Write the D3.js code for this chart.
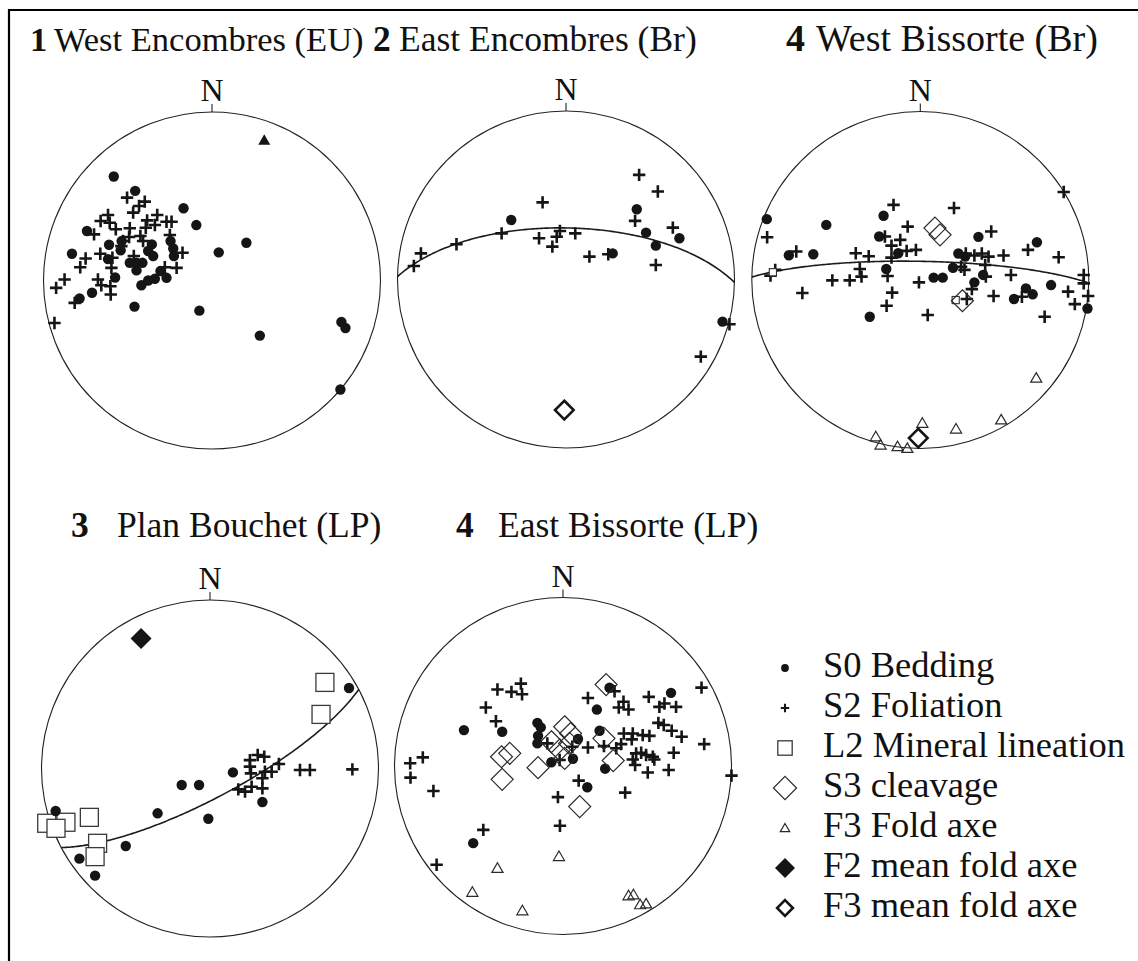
<!DOCTYPE html>
<html><head><meta charset="utf-8">
<script src="https://cdn.jsdelivr.net/npm/d3@7"></script>
<style>body{margin:0;background:#fff}svg{display:block}</style>
</head><body>
<svg id="chart" width="1138" height="961"></svg>
<script>
// ---------- DATA (positions in % of net radius: x east, y north) ----------
const titleNumbers = ["1", "2", "4", "3", "4"];
const titleNames = ["West Encombres (EU)", "East Encombres (Br)", "West Bissorte (Br)", "Plan Bouchet (LP)", "East Bissorte (LP)"];
const northLabel = "N";
const legendLabels = ["S0 Bedding", "S2 Foliation", "L2 Mineral lineation", "S3 cleavage", "F3 Fold axe", "F2 mean fold axe", "F3 mean fold axe"];
const legendSymbols = ["dot", "cross", "square", "diamond", "triangle", "filledDiamond", "boldDiamond"];

// Net 1 - West Encombres (EU)
const net1Bedding = [[-58.3,61.7],[-45.6,53.2],[-16.9,42.9],[-9.3,32.9],[20.4,22.4],[4.0,16.7],[-74.2,29.4],[-83.1,15.9],[-61.1,21.2],[-53.6,23.4],[-54.2,17.9],[-61.7,12.7],[-57.5,1.8],[-48.8,10.5],[-44.8,10.5],[-44.8,6.0],[-41.3,10.5],[-35.7,21.4],[-37.9,17.5],[-34.9,14.5],[-24.6,23.4],[-23.0,19.0],[-22.6,14.5],[-30.6,5.6],[-27.0,1.6],[-33.9,1.0],[-37.9,0],[-41.9,-2.8],[-71.2,-7.3],[-78.6,-10.7],[-46.0,-15.5],[-7.5,-17.9],[28.4,-32.7],[76.8,-24.6],[79.2,-28.2],[76.2,-64.7]];
const net1Foliation = [[-50.4,49.2],[-39.9,46.8],[-43.3,44.2],[-46.8,40.3],[-61.7,38.9],[-66.1,35.3],[-60.7,34.3],[-57.1,30.4],[-48.8,31.0],[-38.5,35.7],[-32.5,38.9],[-33.9,32.9],[-27.0,34.9],[-24.0,34.9],[-25.0,27.0],[-42.5,26.4],[-40.9,23.4],[-17.5,16.5],[-70.0,27.4],[-66.3,15.9],[-75.0,13.1],[-78.2,7.9],[-59.1,13.5],[-59.7,7.5],[-46.4,14.5],[-21.0,7.5],[-28.0,7.9],[-87.5,0.6],[-92.5,-4.4],[-67.7,0.6],[-65.7,-2.8],[-60.3,-3.4],[-60.1,-8.3],[-81.5,-13.3],[-93.5,-25.2],[-52.8,23.4],[-49.2,25.8],[-39.3,31.3],[-53.8,20.4]];
const net1FoldAxis = [[31.0,83.3]];

// Net 2 - East Encombres (Br)
const net2Bedding = [[-32.5,35.3],[42.0,41.7],[47.5,27.8],[67.3,24.5],[53.3,20.1],[27.7,15.5],[92.9,-25.0]];
const net2Foliation = [[43.4,62.1],[54.5,52.2],[-13.9,45.8],[41.0,34.8],[63.4,30.8],[-38.2,27.4],[-65.0,20.9],[-86.1,15.5],[-90.3,8.0],[-16.0,24.5],[-3.6,28.8],[-5.5,25.4],[-8.1,19.5],[5.5,27.4],[13.9,13.6],[25.1,15.0],[53.3,8.6],[97.0,-26.6],[80.0,-45.8]];
const net2F3Mean = [[-1.0,-77.5]];
const net2Plane = [1, 65]; // dip direction, dip

// Net 3 - West Bissorte (Br)
const net3Bedding = [[-91.1,36.1],[-55.8,32.7],[-78.0,14.7],[-63.5,15.3],[-21.8,38.1],[-24.4,25.8],[-13.1,15.9],[-20.2,6.5],[-30.0,-21.8],[7.9,1.4],[13.3,1.4],[19.4,7.3],[22.6,15.7],[26.6,13.9],[34.5,25.6],[37.3,3.0],[32.1,-1.4],[69.2,22.4],[77.6,-3.0],[62.7,-5.0],[66.7,-8.5],[55.6,-11.3],[99.2,-16.9]];
const net3Foliation = [[85.1,52.2],[-15.9,44.6],[20.0,42.7],[-7.5,31.7],[42.1,28.8],[-90.9,25.4],[-21.0,25.8],[-11.9,23.8],[-17.1,20.4],[-8.1,17.3],[-2.6,17.9],[-17.1,13.3],[-38.3,15.9],[-30.6,14.1],[-73.6,16.9],[-86.1,6.0],[-88.9,2.6],[-35.9,6.5],[-34.9,2.0],[-41.9,-0.2],[-52.2,-0.2],[-70.0,-7.7],[-19.4,2.4],[-16.7,-7.5],[-20.0,-15.3],[-0.8,-1.4],[4.4,-20.8],[27.0,15.7],[32.1,14.5],[36.5,15.7],[40.5,13.9],[49.4,14.5],[63.9,17.9],[82.1,13.5],[24.2,7.9],[26.2,6.0],[38.5,8.9],[38.9,2.0],[53.8,3.0],[30.6,-5.4],[27.6,-11.3],[43.5,-9.5],[60.3,-9.9],[73.8,-21.8],[87.7,-6.9],[91.7,-14.3],[97.0,3.0],[97.0,-2.0],[99.6,-9.5]];
const net3Lineation = [[-87.5,4.6],[21.0,-11.9]];
const net3Cleavage = [[8.7,30.8],[11.7,26.8],[25.0,-12.3]];
const net3FoldAxes = [[68.8,-58.1],[48.0,-82.9],[21.2,-88.3],[1.2,-84.9],[-26.4,-92.9],[-23.6,-97.8],[-13.5,-98.8],[-7.7,-99.8]];
const net3F3Mean = [[-1.2,-93.8]];
const net3Plane = [1, 81];

// Net 4 - Plan Bouchet (LP)
const net4Bedding = [[82.5,47.8],[13.6,-2.3],[-16.8,-9.8],[-6.5,-9.8],[31.1,-19.9],[-31.1,-26.6],[-1.0,-29.8],[-50.0,-46.0],[-77.5,-53.5],[-68.2,-63.6]];
const net4Foliation = [[23.7,5.0],[28.3,8.0],[32.2,7.0],[23.7,1.1],[24.3,-2.9],[32.6,-1.9],[36.6,-1.9],[40.9,2.7],[31.1,-5.8],[31.1,-11.8],[24.7,-10.8],[16.8,-12.4],[20.8,-13.7],[53.4,-0.9],[59.3,-0.9],[84.5,-0.5]];
const net4Lineation = [[68.2,51.1],[65.9,32.1],[-71.6,-29.0],[-85.5,-31.9],[-96.9,-32.5],[-91.4,-35.5],[-66.7,-44.4],[-68.2,-52.3]];
const net4BeddingTop = [[-91.6,-25.2]];
const net4F2Mean = [[-40.9,77.2]];
const net4Plane = [152, 76];

// Net 5 - East Bissorte (LP)
const net5Bedding = [[27.6,46.4],[64.1,43.4],[20.1,33.5],[-58.8,21.3],[-36.1,20.3],[-15.2,25.6],[-13.2,22.9],[-14.8,17.9],[-15.2,13.4],[8.9,16.0],[21.7,20.9],[-6.9,2.2],[5.9,4.3],[25.0,-1.6],[14.4,-12.6],[-53.3,-45.8]];
const net5Foliation = [[-25.0,48.9],[-24.3,42.6],[-30.6,44.0],[-38.9,45.4],[-45.8,34.7],[-39.8,26.6],[14.8,40.4],[30.6,44.4],[35.9,38.1],[33.1,34.7],[38.9,33.5],[50.9,41.0],[57.2,35.1],[60.2,37.1],[67.1,35.1],[82.2,46.5],[56.6,25.6],[59.8,24.3],[64.5,20.9],[70.4,17.4],[83.8,13.0],[65.7,7.9],[62.7,-2.4],[50.3,-3.9],[47.3,18.3],[41.4,19.3],[36.1,19.3],[51.3,17.9],[40.8,15.8],[34.5,13.0],[31.6,10.5],[24.3,11.8],[14.8,11.0],[43.4,7.5],[46.4,7.9],[49.3,6.5],[53.3,5.5],[54.2,3.9],[41.4,3.9],[42.8,0.6],[36.9,-15.8],[100,-5.7],[9.3,-8.7],[-3.0,-18.5],[-1.8,-35.5],[-47.3,-37.9],[-75.0,-58.6],[-76.9,-14.8],[-90.5,-6.9],[-90.7,1.6],[-83.2,5.1],[-9.3,13.4],[-2.0,3.6],[5.5,11.4]];
const net5Cleavage = [[25.6,48.3],[1.0,23.3],[4.5,19.3],[-6.9,14.4],[-2.0,9.5],[1.0,4.5],[3.9,13.4],[-31.6,7.5],[-36.5,5.5],[-36.1,-7.9],[-14.8,-1.0],[24.3,16.4],[29.8,3.2],[9.9,-24.1]];
const net5FoldAxes = [[-2.4,-53.6],[-38.9,-60.6],[-53.8,-74.8],[-24.1,-85.8],[38.9,-76.9],[41.8,-76.3],[45.8,-82.2],[49.3,-81.7]];

// ---------- LAYOUT ----------
const W = 1138, H = 961, R = 168.5;
const INK = "#151515";
const FONT = "'Liberation Serif','Times New Roman',serif";
const layout = [
  {cx: 212, cy: 280.5, numX: 30, nameX: 54, titleY: 51, fs: 34.5},
  {cx: 566, cy: 279.5, numX: 373, nameX: 399, titleY: 51, fs: 35.5},
  {cx: 920.3, cy: 280, numX: 786, nameX: 816, titleY: 51, fs: 38},
  {cx: 210, cy: 768.5, numX: 71, nameX: 117, titleY: 537, fs: 35.5},
  {cx: 563, cy: 766, numX: 456, nameX: 498, titleY: 537, fs: 35.5}
];

const nets = [
  {layers: [["cross", net1Foliation], ["dot", net1Bedding], ["filledTriangle", net1FoldAxis]]},
  {plane: net2Plane, layers: [["cross", net2Foliation], ["dot", net2Bedding], ["boldDiamond", net2F3Mean]]},
  {plane: net3Plane, layers: [["cross", net3Foliation], ["dot", net3Bedding], ["smallSquare", net3Lineation], ["diamond", net3Cleavage], ["triangle", net3FoldAxes], ["boldDiamond", net3F3Mean]]},
  {plane: net4Plane, layers: [["cross", net4Foliation], ["dot", net4Bedding], ["square", net4Lineation], ["dot", net4BeddingTop], ["filledDiamond", net4F2Mean]]},
  {layers: [["cross", net5Foliation], ["dot", net5Bedding], ["diamond", net5Cleavage], ["triangle", net5FoldAxes]]}
];

const svg = d3.select("#chart");
svg.append("rect").attr("width", W).attr("height", H).attr("fill", "#fff");
// frame
svg.append("path").attr("d", `M9,${H + 5}V10H${W + 5}`).attr("fill", "none").attr("stroke", "#000").attr("stroke-width", 2.2);

function drawSymbol(g, type, x, y, s) {
  s = s || 1;
  if (type === "dot") {
    g.append("circle").attr("cx", x).attr("cy", y).attr("r", 5.2 * s).attr("fill", INK);
  } else if (type === "cross") {
    const h = 6.2 * s;
    g.append("path").attr("d", `M${x - h},${y}H${x + h}M${x},${y - h}V${y + h}`)
      .attr("stroke", INK).attr("stroke-width", 2.6 * Math.max(s, 0.8)).attr("fill", "none");
  } else if (type === "square") {
    const h = 9 * s;
    g.append("rect").attr("x", x - h).attr("y", y - h).attr("width", 2 * h).attr("height", 2 * h)
      .attr("fill", "#fff").attr("stroke", "#3a3a3a").attr("stroke-width", 1.3);
  } else if (type === "smallSquare") {
    const h = 3.6 * s;
    g.append("rect").attr("x", x - h).attr("y", y - h).attr("width", 2 * h).attr("height", 2 * h)
      .attr("fill", "#fff").attr("stroke", "#333").attr("stroke-width", 1.1);
  } else if (type === "diamond") {
    const h = 11 * s;
    g.append("path").attr("d", `M${x},${y - h}L${x + h},${y}L${x},${y + h}L${x - h},${y}Z`)
      .attr("fill", "none").attr("stroke", "#2a2a2a").attr("stroke-width", 1.2);
  } else if (type === "triangle") {
    const h = 5.3 * s;
    g.append("path").attr("d", `M${x},${y - h}L${x + h * 1.05},${y + h * 0.8}L${x - h * 1.05},${y + h * 0.8}Z`)
      .attr("fill", "none").attr("stroke", "#2a2a2a").attr("stroke-width", 1.2);
  } else if (type === "filledTriangle") {
    const h = 6 * s;
    g.append("path").attr("d", `M${x},${y - h}L${x + h},${y + h * 0.75}L${x - h},${y + h * 0.75}Z`)
      .attr("fill", INK);
  } else if (type === "filledDiamond") {
    const h = 10.5 * s;
    g.append("path").attr("d", `M${x},${y - h}L${x + h},${y}L${x},${y + h}L${x - h},${y}Z`).attr("fill", INK);
  } else if (type === "boldDiamond") {
    const h = 9.3 * s;
    g.append("path").attr("d", `M${x},${y - h}L${x + h},${y}L${x},${y + h}L${x - h},${y}Z`)
      .attr("fill", "#fff").attr("stroke", INK).attr("stroke-width", 2.6);
  }
}

nets.forEach((net, i) => {
  const L = layout[i];
  const g = svg.append("g");
  const x = d3.scaleLinear().domain([-100, 100]).range([L.cx - R, L.cx + R]);
  const y = d3.scaleLinear().domain([-100, 100]).range([L.cy + R, L.cy - R]);

  // title
  const t = g.append("text").attr("y", L.titleY).attr("font-family", FONT).attr("font-size", L.fs).attr("fill", "#111");
  t.append("tspan").attr("x", L.numX).attr("font-weight", "bold").text(titleNumbers[i]);
  t.append("tspan").attr("x", L.nameX).text(titleNames[i]);

  // N label + tick
  g.append("text").attr("x", x(0)).attr("y", y(100) - 11).attr("text-anchor", "middle")
    .attr("font-family", FONT).attr("font-size", 32).attr("fill", "#111").text(northLabel);
  g.append("line").attr("x1", x(0)).attr("x2", x(0)).attr("y1", y(100) - 8).attr("y2", y(100))
    .attr("stroke", "#222").attr("stroke-width", 1.1);

  // primitive circle
  g.append("circle").attr("cx", L.cx).attr("cy", L.cy).attr("r", R)
    .attr("fill", "none").attr("stroke", "#222").attr("stroke-width", 1.1);

  // great circle (equal-area, lower hemisphere)
  if (net.plane) {
    const proj = d3.geoAzimuthalEqualArea().rotate([0, -90]).clipAngle(90)
      .scale(R / Math.SQRT2).translate([L.cx, L.cy]).precision(0.1);
    const path = d3.geoPath(proj);
    const [dd, dip] = net.plane;
    const ring = d3.geoCircle().center([-dd, 90 - dip]).radius(90).precision(1)().coordinates[0];
    g.append("path").datum({type: "LineString", coordinates: ring}).attr("d", path)
      .attr("fill", "none").attr("stroke", "#1b1b1b").attr("stroke-width", 1.6);
  }

  net.layers.forEach(([type, pts]) => {
    pts.forEach(p => drawSymbol(g, type, x(p[0]), y(p[1])));
  });
});

// legend
const legX = 785, legTextX = 823;
const legY = d3.scalePoint().domain(legendLabels).range([677, 917]);
const legScale = {dot: 0.75, cross: 0.68, square: 0.8, diamond: 1.05, triangle: 0.85, filledDiamond: 0.95, boldDiamond: 0.85};
legendLabels.forEach((lab, i) => {
  const by = legY(lab);
  const sym = legendSymbols[i];
  const my = by - 9;
  drawSymbol(svg, sym, legX, my, legScale[sym]);
  svg.append("text").attr("x", legTextX).attr("y", by).attr("font-family", FONT).attr("font-size", 36.5)
    .attr("fill", "#111").text(lab);
});
</script>
</body></html>
